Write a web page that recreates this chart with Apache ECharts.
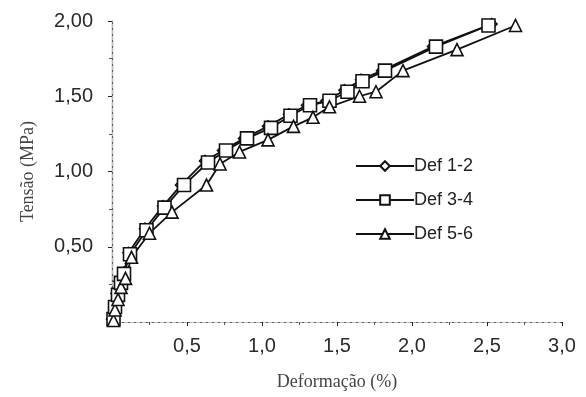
<!DOCTYPE html>
<html>
<head>
<meta charset="utf-8">
<style>
  html, body { margin: 0; padding: 0; background: #fff; }
  #chart { width: 586px; height: 397px; }
</style>
<script src="https://cdn.jsdelivr.net/npm/echarts@6/dist/echarts.min.js"></script>
</head>
<body>
<div id="chart"></div>
<script>
// deformação (%) , tensão (MPa)
var def12 = [[0.00, 0.02], [0.02, 0.11], [0.03, 0.19], [0.05, 0.27], [0.08, 0.33], [0.11, 0.46],
  [0.22, 0.62], [0.34, 0.77], [0.46, 0.91], [0.62, 1.07], [0.74, 1.14], [0.88, 1.22], [1.04, 1.30],
  [1.18, 1.38], [1.30, 1.44], [1.43, 1.47], [1.55, 1.54], [1.66, 1.61], [1.80, 1.67], [2.14, 1.83], [2.53, 1.98]];
var def34 = [[0.01, 0.02], [0.02, 0.10], [0.04, 0.18], [0.06, 0.26], [0.08, 0.32], [0.12, 0.45],
  [0.23, 0.61], [0.35, 0.76], [0.48, 0.91], [0.64, 1.06], [0.76, 1.14], [0.90, 1.22], [1.06, 1.29],
  [1.19, 1.37], [1.32, 1.44], [1.45, 1.47], [1.57, 1.53], [1.67, 1.60], [1.82, 1.67], [2.16, 1.83], [2.51, 1.97]];
var def56 = [[0.01, 0.01], [0.02, 0.08], [0.04, 0.15], [0.06, 0.23], [0.09, 0.29], [0.13, 0.43],
  [0.25, 0.59], [0.40, 0.73], [0.63, 0.91], [0.72, 1.05], [0.85, 1.13], [1.04, 1.21], [1.21, 1.30],
  [1.34, 1.36], [1.45, 1.43], [1.65, 1.50], [1.76, 1.53], [1.94, 1.67], [2.30, 1.81], [2.69, 1.97]];
var seriesNames = ['Def 1-2', 'Def 3-4', 'Def 5-6'];

var myChart = echarts.init(document.getElementById('chart'));

function mkSeries(name, data, symbol, size) {
  return {
    name: name,
    type: 'line',
    data: data,
    symbol: symbol,
    symbolSize: size,
    showAllSymbol: true,
    lineStyle: { color: '#111', width: 1.8 },
    itemStyle: { color: '#fff', borderColor: '#111', borderWidth: 1.6 },
    emphasis: { disabled: true }
  };
}

var tickFont = { color: '#2a2a2a', fontSize: 20, fontFamily: 'Liberation Sans, Arial, sans-serif' };

var option = {
  animation: false,
  grid: { left: 112, right: 24, top: 21, bottom: 75 },
  legend: {
    orient: 'vertical',
    left: 350,
    top: 152,
    itemWidth: 58,
    itemHeight: 12,
    itemGap: 16,
    data: seriesNames,
    textStyle: { color: '#222', fontSize: 18, fontFamily: 'Liberation Sans, Arial, sans-serif', padding: [0, 0, 0, -5] }
  },
  xAxis: [{
    type: 'value',
    min: 0,
    max: 3,
    interval: 0.5,
    name: 'Deformação (%)',
    nameLocation: 'middle',
    nameGap: 51,
    nameTextStyle: { color: '#444', fontSize: 18, fontFamily: 'Liberation Serif, Times New Roman, serif' },
    axisLine: { lineStyle: { color: '#222', width: 1.2 } },
    axisTick: { length: 4, lineStyle: { color: '#222' } },
    minorTick: { show: true, splitNumber: 2, length: 3, lineStyle: { color: '#555' } },
    splitLine: { show: false },
    axisLabel: Object.assign({
      margin: 14,
      formatter: function (v) { return v === 0 ? '' : v.toFixed(1).replace('.', ','); }
    }, tickFont)
  }, {
    type: 'value',
    position: 'top',
    min: 0,
    max: 3,
    axisLine: { show: true, lineStyle: { color: '#bbb', type: 'dashed', width: 1 } },
    axisTick: { show: false },
    axisLabel: { show: false },
    splitLine: { show: false }
  }],
  yAxis: [{
    type: 'value',
    min: 0,
    max: 2,
    interval: 0.5,
    name: 'Tensão (MPa)',
    nameLocation: 'middle',
    nameGap: 75,
    nameTextStyle: { color: '#444', fontSize: 18, fontFamily: 'Liberation Serif, Times New Roman, serif' },
    axisLine: { show: true, lineStyle: { color: '#222', width: 1.2 } },
    axisTick: { show: true, length: 4, lineStyle: { color: '#222' } },
    minorTick: { show: true, splitNumber: 2, length: 3, lineStyle: { color: '#555' } },
    splitLine: { show: false },
    axisLabel: Object.assign({
      margin: 19,
      formatter: function (v) { return v === 0 ? '' : v.toFixed(2).replace('.', ','); }
    }, tickFont)
  }, {
    type: 'value',
    position: 'right',
    min: 0,
    max: 2,
    axisLine: { show: true, lineStyle: { color: '#bbb', type: 'dashed', width: 1 } },
    axisTick: { show: false },
    axisLabel: { show: false },
    splitLine: { show: false }
  }],
  series: [
    mkSeries(seriesNames[0], def12, 'diamond', 11),
    mkSeries(seriesNames[1], def34, 'rect', 13),
    mkSeries(seriesNames[2], def56, 'triangle', 12)
  ]
};
myChart.setOption(option);

window.addEventListener('resize', function () {
  myChart.resize();
});
</script>
</body>
</html>
